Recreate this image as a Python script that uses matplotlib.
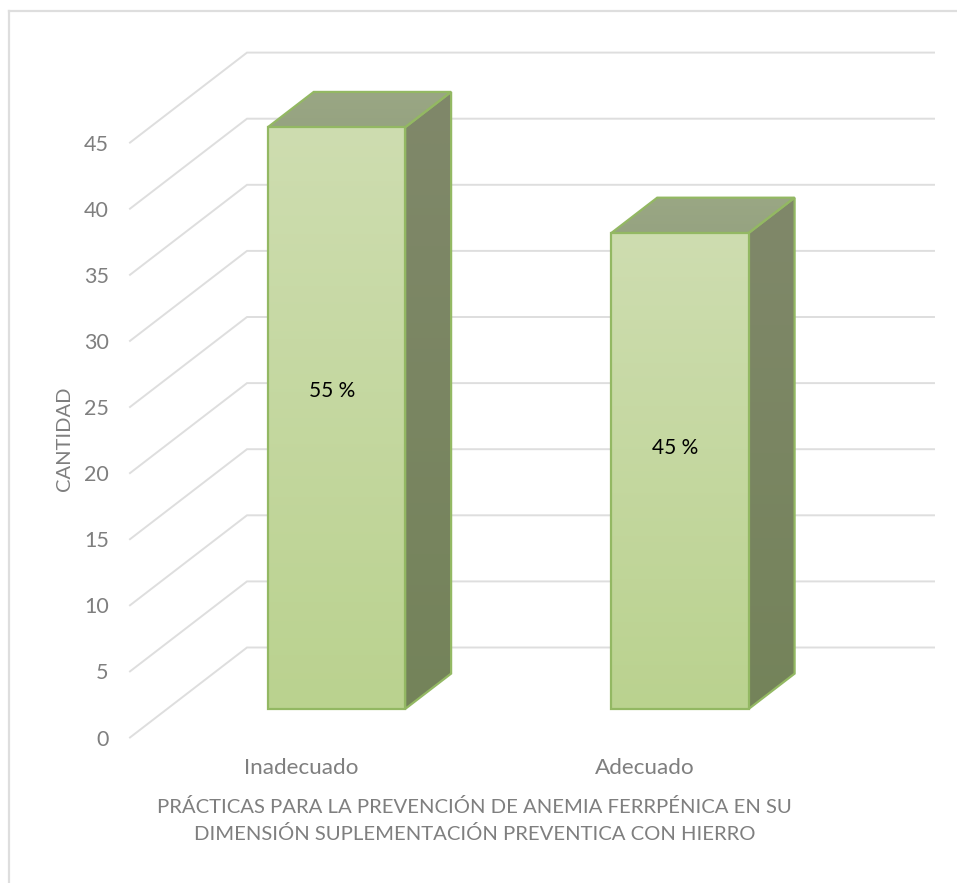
import numpy as np
import matplotlib
matplotlib.use("Agg")
import matplotlib.pyplot as plt
from matplotlib.colors import LinearSegmentedColormap
from matplotlib.lines import Line2D
from matplotlib.patches import Polygon

# ---- data ----
categories = ["Inadecuado", "Adecuado"]
values = [44, 36]
percent_labels = ["55 %", "45 %"]
y_ticks = [0, 5, 10, 15, 20, 25, 30, 35, 40, 45]
x_title = "PRÁCTICAS PARA LA PREVENCIÓN DE ANEMIA FERRPÉNICA EN SU\nDIMENSIÓN SUPLEMENTACIÓN PREVENTICA CON HIERRO"
y_title = "CANTIDAD"

# ---- style / layout ----
W, H = 957, 883
GRID = "#DEDEDE"
TEXT = "#7F7F7F"
EDGE = "#93B863"
plt.rcParams["font.family"] = ["Lato", "DejaVu Sans"]

fig = plt.figure(figsize=(W / 100, H / 100), dpi=100, facecolor="white")
ax = fig.add_axes([130 / W, 1 - 737.5 / H, 804 / W, 684.5 / H])
cat_px, val_px = 343.5, 13.22
ax.set_xlim(-0.5, -0.5 + 804 / cat_px)
ax.set_ylim(0, 684.5 / val_px)

# oblique projection of the 3-D box: depth 1 = back wall
DX, DY = 117 / cat_px, 90 / val_px
def proj(x, v, d):
    return x + DX * d, v + DY * d

x_left = ax.get_xlim()[0]
x_wall_end = x_left + (934 - 247) / cat_px

for v in y_ticks:
    xs, ys = zip(proj(x_left, v, 0), proj(x_left, v, 1), proj(x_wall_end, v, 1))
    ax.plot(xs, ys, color=GRID, lw=1.4, zorder=1, clip_on=False, solid_joinstyle="miter")

def gradient_face(points, top_color, bottom_color, z):
    poly = Polygon(points, closed=True, facecolor="none", edgecolor="none", transform=ax.transData)
    ax.add_patch(poly)
    xs, ys = zip(*points)
    cmap = LinearSegmentedColormap.from_list("g", [top_color, bottom_color])
    im = ax.imshow(np.linspace(0, 1, 256)[:, None], cmap=cmap, aspect="auto",
                   extent=(min(xs), max(xs), min(ys), max(ys)), origin="upper",
                   zorder=z, interpolation="bilinear")
    im.set_clip_path(poly)
    ax.add_patch(Polygon(points, closed=True, facecolor="none", edgecolor=EDGE,
                         lw=1.6, zorder=z + 0.5, joinstyle="miter", clip_on=False))

BAR_W = 0.40
D0, D1 = 0.317, 0.71
NUDGE = -0.007
for i, val in enumerate(values):
    l, r = i + NUDGE - BAR_W / 2, i + NUDGE + BAR_W / 2
    # top
    top = [proj(l, val, D0), proj(r, val, D0), proj(r, val, D1), proj(l, val, D1)]
    gradient_face(top, "#9AA784", "#96A381", 3)
    # side
    side = [proj(r, 0, D0), proj(r, 0, D1), proj(r, val, D1), proj(r, val, D0)]
    gradient_face(side, "#80886A", "#74835A", 3)
    # front
    front = [proj(l, 0, D0), proj(r, 0, D0), proj(r, val, D0), proj(l, val, D0)]
    gradient_face(front, "#CEDDB0", "#BAD28F", 4)
    # percentage label
    cx, cy = proj(i + NUDGE, val * 0.54, D0)
    ax.annotate(percent_labels[i], (cx, cy), xytext=(-4.5, 4), textcoords="offset pixels",
                ha="center", va="center", fontsize=15, color="black", zorder=6)

ax.set_xlim(-0.5, -0.5 + 804 / cat_px)
ax.set_ylim(0, 684.5 / val_px)

for s in ax.spines.values():
    s.set_visible(False)
ax.patch.set_visible(False)
ax.set_yticks(y_ticks)
ax.set_xticks(range(len(categories)))
ax.set_xticklabels(categories)
ax.tick_params(axis="y", length=0, pad=15.3, labelsize=15.5, labelcolor=TEXT)
ax.tick_params(axis="x", length=0, pad=15, labelsize=16.2, labelcolor=TEXT)

ax.set_xlabel(x_title, fontsize=14.6, color=TEXT, linespacing=1.62, ha="center", va="top")
ax.xaxis.set_label_coords((474.5 - 130) / 804, -(798 - 737.5) / 684.5)
ax.set_ylabel(y_title, fontsize=14.5, color=TEXT, va="center", ha="center")
ax.yaxis.set_label_coords((65 - 130) / 804, (737.5 - 439) / 684.5)

# chart frame
for (x0, y0, x1, y1) in [(9, H, 9, 11), (9, 11, W, 11)]:
    fig.add_artist(Line2D([x0 / W, x1 / W], [1 - y0 / H, 1 - y1 / H], color=GRID, lw=1.6,
                          transform=fig.transFigure, solid_joinstyle="miter"))

fig.savefig("out.png", dpi=100)
